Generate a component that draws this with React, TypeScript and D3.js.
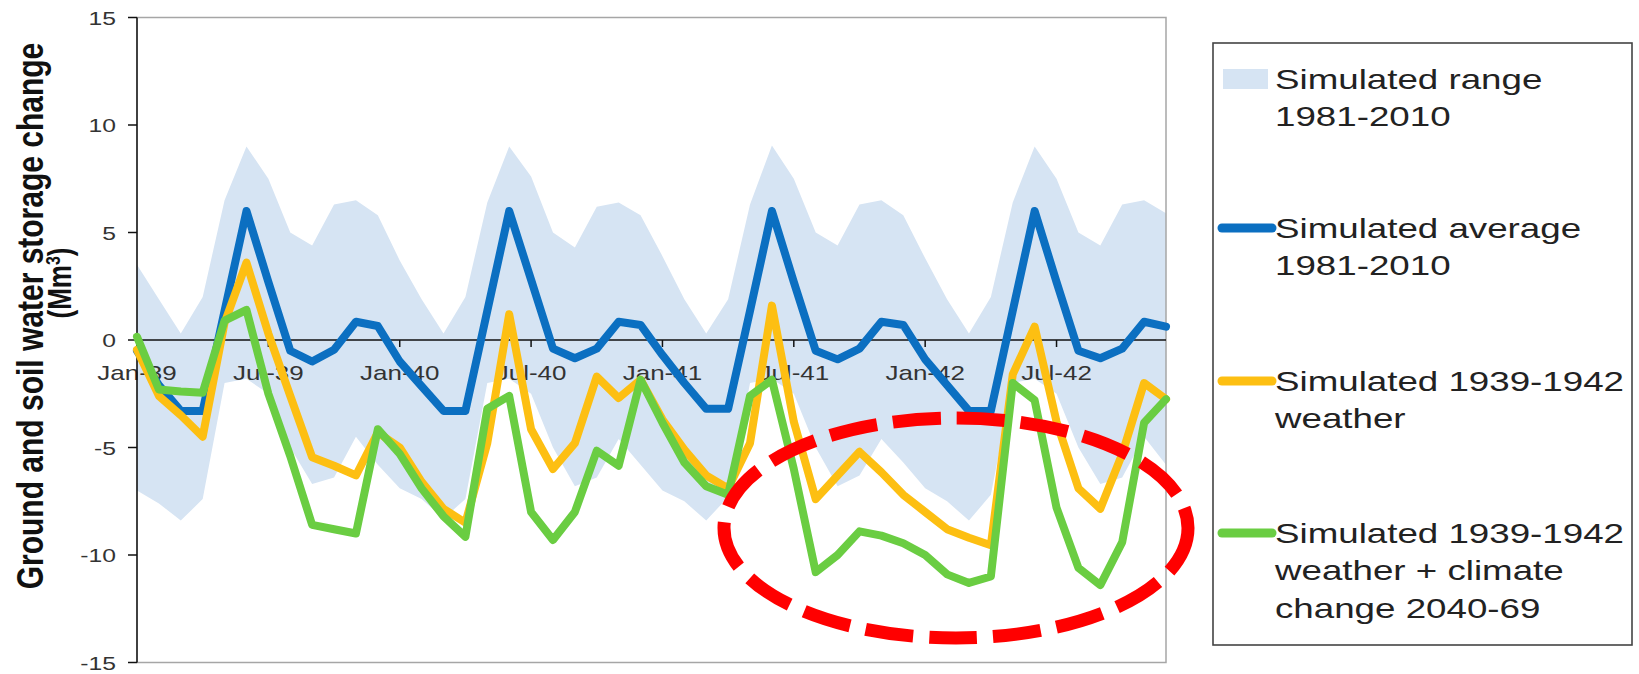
import React from "react";
import * as d3 from "d3";

// ---- data ----
const months = [
  "Jan-39","Feb-39","Mar-39","Apr-39","May-39","Jun-39","Jul-39","Aug-39","Sep-39","Oct-39","Nov-39","Dec-39",
  "Jan-40","Feb-40","Mar-40","Apr-40","May-40","Jun-40","Jul-40","Aug-40","Sep-40","Oct-40","Nov-40","Dec-40",
  "Jan-41","Feb-41","Mar-41","Apr-41","May-41","Jun-41","Jul-41","Aug-41","Sep-41","Oct-41","Nov-41","Dec-41",
  "Jan-42","Feb-42","Mar-42","Apr-42","May-42","Jun-42","Jul-42","Aug-42","Sep-42","Oct-42","Nov-42","Dec-42",
];
const tickLabels = ["Jan-39","Jul-39","Jan-40","Jul-40","Jan-41","Jul-41","Jan-42","Jul-42"];
const yTicks = [-15, -10, -5, 0, 5, 10, 15];

const rangeHigh = [
  3.5, 1.9, 0.3, 2.0, 6.5, 9.0, 7.5, 5.0, 4.4, 6.3, 6.5, 5.8,
  3.7, 1.9, 0.3, 2.0, 6.4, 9.0, 7.6, 5.0, 4.3, 6.2, 6.4, 5.8,
  3.9, 1.9, 0.3, 1.9, 6.3, 9.05, 7.5, 5.0, 4.4, 6.3, 6.5, 5.8,
  3.8, 1.9, 0.3, 2.0, 6.4, 9.0, 7.5, 5.0, 4.4, 6.3, 6.5, 5.9,
];
const rangeLow = [
  -7.0, -7.6, -8.4, -7.4, -2.0, -1.8, -2.5, -5.0, -6.7, -6.4, -4.5, -5.8,
  -6.9, -7.4, -8.3, -7.4, -2.0, -1.8, -2.5, -5.0, -6.8, -6.4, -4.6, -5.8,
  -7.0, -7.5, -8.4, -7.3, -2.0, -1.8, -2.5, -5.0, -6.8, -6.3, -4.6, -5.7,
  -6.9, -7.5, -8.4, -7.2, -2.0, -1.8, -2.5, -5.0, -6.7, -6.4, -4.5, -5.8,
];
const simAverage = [
  -0.5, -2.1, -3.3, -3.3, 1.35, 6.0, 2.7, -0.5, -1.0, -0.45, 0.85, 0.65,
  -1.0, -2.15, -3.3, -3.3, 1.35, 6.0, 2.8, -0.4, -0.85, -0.4, 0.85, 0.7,
  -0.7, -2.0, -3.2, -3.2, 1.35, 6.0, 2.7, -0.5, -0.9, -0.4, 0.85, 0.7,
  -0.9, -2.1, -3.3, -3.3, 1.35, 6.0, 2.7, -0.5, -0.85, -0.4, 0.85, 0.62,
];
const sim1939 = [
  -0.45, -2.6, -3.5, -4.5, 0.8, 3.6, 0.3, -2.6, -5.45, -5.85, -6.3, -4.3,
  -5.0, -6.6, -7.85, -8.5, -4.8, 1.2, -4.15, -6.0, -4.8, -1.7, -2.7, -1.85,
  -3.7, -5.1, -6.3, -6.9, -4.8, 1.6, -3.8, -7.4, -6.3, -5.2, -6.15, -7.2,
  -8.0, -8.8, -9.2, -9.55, -1.6, 0.62, -3.8, -6.9, -7.85, -5.3, -2.0, -2.75,
];
const sim1939cc = [
  0.15, -2.3, -2.4, -2.45, 0.9, 1.4, -2.5, -5.4, -8.6, -8.8, -9.0, -4.15,
  -5.3, -6.9, -8.2, -9.15, -3.2, -2.6, -8.0, -9.3, -8.0, -5.15, -5.85, -1.85,
  -3.85, -5.7, -6.8, -7.2, -2.6, -1.85, -6.0, -10.8, -10.0, -8.9, -9.1, -9.45,
  -10.0, -10.9, -11.3, -11.0, -2.0, -2.8, -7.8, -10.6, -11.4, -9.4, -3.85, -2.75,
];

const legendEntries = [
  { kind: "area", color: "#d6e4f3", lines: ["Simulated range", "1981-2010"] },
  { kind: "line", color: "#0b6fc1", lines: ["Simulated average", "1981-2010"] },
  { kind: "line", color: "#fdbf12", lines: ["Simulated 1939-1942", "weather"] },
  { kind: "line", color: "#6acd42", lines: ["Simulated 1939-1942", "weather + climate", "change 2040-69"] },
];

// ---- layout ----
const W = 1639, H = 674;
const plot = { left: 137, right: 1166, top: 17.5, bottom: 662.5 };
const FONT = "'Liberation Sans', Arial, Helvetica, sans-serif";
const SX = 1.3; // horizontal stretch of the original picture

export default function App() {
  const x = d3.scaleLinear().domain([0, months.length - 1]).range([plot.left, plot.right]);
  const y = d3.scaleLinear().domain([-15, 15]).range([plot.bottom, plot.top]);

  const area = d3.area<number>()
    .x((_, i) => x(i))
    .y0((_, i) => y(rangeLow[i]))
    .y1((d) => y(d));
  const line = d3.line<number>().x((_, i) => x(i)).y((d) => y(d));

  const series = [
    { data: simAverage, color: legendEntries[1].color },
    { data: sim1939, color: legendEntries[2].color },
    { data: sim1939cc, color: legendEntries[3].color },
  ];

  const legend = { x: 1213, y: 43, w: 419, h: 602 };
  const entryY = [79, 228, 381, 533];
  const lineGap = 37.5;
  const lfs = 27;

  return (
    <svg width={W} height={H} style={{ position: "absolute", left: 0, top: 0, background: "#fff" }}>
      {/* range area */}
      <path d={area(rangeHigh) || ""} fill={legendEntries[0].color} />

      {/* plot frame (gray top/right/bottom) */}
      <path
        d={`M${plot.left},${plot.top}H${plot.right}V${plot.bottom}H${plot.left}`}
        fill="none" stroke="#a6a6a6" strokeWidth={1.5}
      />

      {/* zero line / category axis */}
      <line x1={plot.left} x2={plot.right} y1={y(0)} y2={y(0)} stroke="#111" strokeWidth={1.6} />
      {tickLabels.map((t) => {
        const i = months.indexOf(t);
        return (
          <g key={t}>
            <line x1={x(i)} x2={x(i)} y1={y(0)} y2={y(0) + 7} stroke="#111" strokeWidth={1.5} />
            <text
              transform={`translate(${x(i)},${y(0) + 40}) scale(${SX},1)`}
              textAnchor="middle" fontFamily={FONT} fontSize={20} fill="#333"
            >{t}</text>
          </g>
        );
      })}

      {/* y axis */}
      <line x1={plot.left} x2={plot.left} y1={plot.top} y2={plot.bottom} stroke="#111" strokeWidth={1.6} />
      {yTicks.map((v) => (
        <g key={v}>
          <line x1={plot.left - 9} x2={plot.left} y1={y(v)} y2={y(v)} stroke="#111" strokeWidth={1.5} />
          <text
            transform={`translate(${plot.left - 21},${y(v) + 7}) scale(${SX},1)`}
            textAnchor="end" fontFamily={FONT} fontSize={19} fill="#333"
          >{v}</text>
        </g>
      ))}

      {/* series lines */}
      {series.map((s, k) => (
        <path key={k} d={line(s.data) || ""} fill="none" stroke={s.color}
          strokeWidth={8} strokeLinejoin="round" strokeLinecap="round" />
      ))}

      {/* y axis title */}
      <text
        transform={`translate(43,316) scale(1.2,1) rotate(-90)`}
        textAnchor="middle" fontFamily={FONT} fontWeight="bold" fontSize={30} fill="#111"
      >Ground and soil water storage change</text>
      <text
        transform={`translate(71,283) scale(1.25,1) rotate(-90)`}
        textAnchor="middle" fontFamily={FONT} fontWeight="bold" fontSize={26} fill="#111"
      >(Mm<tspan dy={-9} fontSize={16}>3</tspan><tspan dy={9}>)</tspan></text>

      {/* annotation ellipse */}
      <ellipse cx={956} cy={528} rx={232} ry={110} fill="none" stroke="#ff0000"
        strokeWidth={13} strokeDasharray="48 16" />

      {/* legend */}
      <rect x={legend.x} y={legend.y} width={legend.w} height={legend.h} fill="#fff" stroke="#444" strokeWidth={1.6} />
      {legendEntries.map((e, k) => (
        <g key={k}>
          {e.kind === "area" ? (
            <rect x={1223} y={entryY[k] - 10} width={45} height={20} fill={e.color} />
          ) : (
            <line x1={1222} x2={1272} y1={entryY[k]} y2={entryY[k]} stroke={e.color}
              strokeWidth={9} strokeLinecap="round" />
          )}
          {e.lines.map((t, j) => (
            <text key={j}
              transform={`translate(1275,${entryY[k] + j * lineGap + 9.5}) scale(1.36,1)`}
              fontFamily={FONT} fontSize={lfs} fill="#222"
            >{t}</text>
          ))}
        </g>
      ))}
    </svg>
  );
}
